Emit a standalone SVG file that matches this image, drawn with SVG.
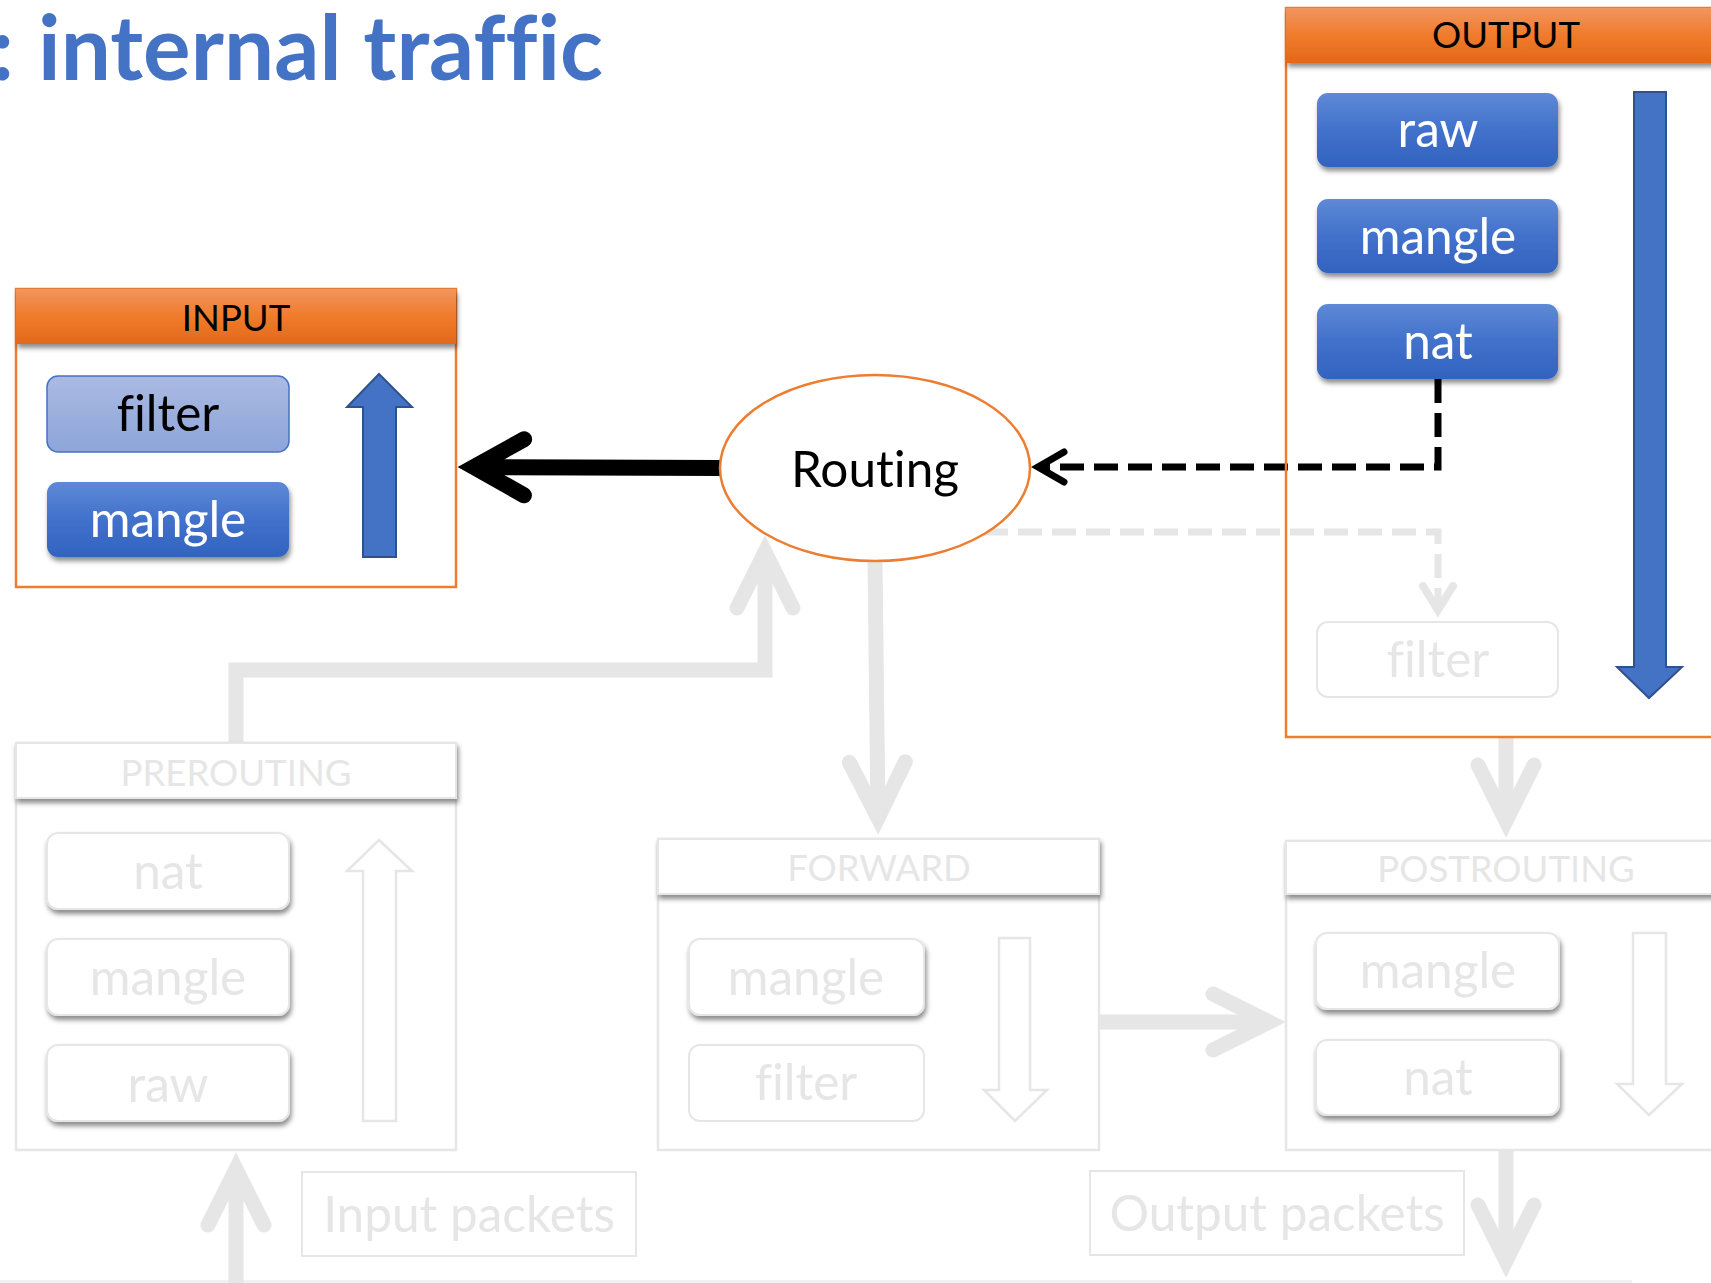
<svg xmlns="http://www.w3.org/2000/svg" width="1711" height="1283" viewBox="0 0 1711 1283">
  <defs>
    <linearGradient id="gOrange" x1="0" y1="0" x2="0" y2="1">
      <stop offset="0" stop-color="#F2955F"/>
      <stop offset="0.5" stop-color="#F07B2B"/>
      <stop offset="1" stop-color="#E2681A"/>
    </linearGradient>
    <linearGradient id="gBlue" x1="0" y1="0" x2="0" y2="1">
      <stop offset="0" stop-color="#5F89D6"/>
      <stop offset="0.5" stop-color="#4171CB"/>
      <stop offset="1" stop-color="#3263BF"/>
    </linearGradient>
    <linearGradient id="gLight" x1="0" y1="0" x2="0" y2="1">
      <stop offset="0" stop-color="#AABAE2"/>
      <stop offset="1" stop-color="#8DA5DA"/>
    </linearGradient>
    <filter id="shadow" x="-10%" y="-20%" width="130%" height="160%">
      <feDropShadow dx="1.5" dy="4" stdDeviation="2.5" flood-color="#000" flood-opacity="0.45"/>
    </filter>
    <marker id="mGray" markerUnits="userSpaceOnUse" orient="auto" overflow="visible" markerWidth="1" markerHeight="1">
      <path d="M -56 -28 L 0 0 L -56 28" fill="none" stroke="#E6E6E6" stroke-width="15" stroke-linecap="round" stroke-linejoin="miter"/>
    </marker>
    <marker id="mBlack" markerUnits="userSpaceOnUse" orient="auto" overflow="visible" markerWidth="1" markerHeight="1">
      <path d="M -50 -28 L 0 0 L -50 28" fill="none" stroke="#000" stroke-width="16" stroke-linecap="round" stroke-linejoin="miter"/>
    </marker>
    <marker id="mBlackDash" markerUnits="userSpaceOnUse" orient="auto" overflow="visible" markerWidth="1" markerHeight="1">
      <path d="M -26 -15 L 0 0 L -26 15" fill="none" stroke="#000" stroke-width="7" stroke-linecap="round" stroke-linejoin="miter"/>
    </marker>
    <marker id="mGrayDash" markerUnits="userSpaceOnUse" orient="auto" overflow="visible" markerWidth="1" markerHeight="1">
      <path d="M -24 -15 L 0 0 L -24 15" fill="none" stroke="#E6E6E6" stroke-width="8" stroke-linecap="round" stroke-linejoin="miter"/>
    </marker>
  </defs>
  <style>
    text { font-family: Lato, "Open Sans", "Liberation Sans", sans-serif; text-anchor: middle; font-variant-ligatures: none; }
    .title { font-weight: bold; font-size: 89px; fill: #4472C4; text-anchor: start; }
    .head { font-size: 36.5px; }
    .lbl { font-size: 49.5px; }
    .dark { fill: #000; }
    .white { fill: #FFF; }
    .faint { fill: #E6E6E6; }
    .frameOn { fill: none; stroke: #ED7D31; stroke-width: 2.5; }
    .frameOff { fill: none; stroke: #E6E6E6; stroke-width: 2.5; }
    .hdrOn { fill: url(#gOrange); filter: url(#shadow); }
    .hdrOff { fill: #FFF; stroke: #E6E6E6; stroke-width: 2; filter: url(#shadow); }
    .tblOn { fill: url(#gBlue); filter: url(#shadow); }
    .tblLight { fill: url(#gLight); stroke: #4472C4; stroke-width: 1.5; }
    .tblOff { fill: #FFF; stroke: #E6E6E6; stroke-width: 2; filter: url(#shadow); }
    .tblOffFlat { fill: #FFF; stroke: #E6E6E6; stroke-width: 2; }
    .arrOn { fill: #4472C4; stroke: #2F528F; stroke-width: 2; }
    .arrOff { fill: #FFF; stroke: #E6E6E6; stroke-width: 2.5; }
    .thick { fill: none; stroke: #E6E6E6; stroke-width: 15; stroke-linejoin: miter; marker-end: url(#mGray); }
    .blk { fill: none; stroke: #000; stroke-width: 16; marker-end: url(#mBlack); }
    .blkDash { fill: none; stroke: #000; stroke-width: 7; stroke-dasharray: 24 10; marker-end: url(#mBlackDash); }
    .grayDash { fill: none; stroke: #E6E6E6; stroke-width: 7; stroke-dasharray: 24 10; marker-end: url(#mGrayDash); }
  </style>

  <rect width="1711" height="1283" fill="#FFF"/>

  <!-- slide title, running off the left edge -->
  <g id="title">
    <text class="title" y="80"><tspan x="-9">:</tspan><tspan x="38" textLength="565">internal traffic</tspan></text>
  </g>

  <!-- thin footer rule -->
  <g id="footer-rule">
    <line x1="0" y1="1281.5" x2="1632" y2="1281.5" stroke="#F0F0F0" stroke-width="3"/>
  </g>

  <!-- OUTPUT body fill sits under the connectors that cross it -->
  <rect x="1286" y="8" width="440" height="729" fill="#FFF"/>

  <g id="connectors">
    <path class="thick" d="M 236 743 L 236 670 L 765 670 L 765 552"/>
    <path class="thick" d="M 875 561 L 878 818"/>
    <path class="thick" d="M 1506 737 L 1506 821"/>
    <path class="thick" d="M 1099 1022 L 1269 1022"/>
    <path class="thick" d="M 236 1290 L 236 1169"/>
    <path class="thick" d="M 1506 1150 L 1506 1261"/>
    <path class="blk" d="M 722 468 L 474 467"/>
    <path class="blkDash" d="M 1438 379 L 1438 467 L 1038 467"/>
    <path class="grayDash" d="M 984 532 L 1438 532 L 1438 610"/>
  </g>

  <g id="routing">
    <ellipse cx="875" cy="468" rx="155" ry="93" fill="#FFF" stroke="#ED7D31" stroke-width="2.5"/>
    <text class="lbl dark" x="875" y="487">Routing</text>
  </g>

  <g id="input-chain">
    <rect x="16" y="289" width="440" height="298" fill="#FFF"/>
    <rect class="frameOn" x="16" y="289" width="440" height="298"/>
    <rect class="hdrOn" x="16" y="289" width="440" height="55"/>
    <text class="head dark" x="236" y="331">INPUT</text>
    <rect class="tblLight" x="47" y="376" width="242" height="76" rx="11"/>
    <text class="lbl dark" x="168" y="431">filter</text>
    <rect class="tblOn" x="47" y="482" width="242" height="75" rx="11"/>
    <text class="lbl white" x="168" y="537">mangle</text>
    <polygon class="arrOn" points="363,557 396,557 396,407 412,407 379,374 347,407 363,407"/>
  </g>

  <g id="output-chain">
    <rect class="frameOn" x="1286" y="8" width="440" height="729"/>
    <rect class="hdrOn" x="1286" y="8" width="440" height="55"/>
    <text class="head dark" x="1506" y="48">OUTPUT</text>
    <rect class="tblOn" x="1317" y="93" width="241" height="74" rx="11"/>
    <text class="lbl white" x="1438" y="147">raw</text>
    <rect class="tblOn" x="1317" y="199" width="241" height="74" rx="11"/>
    <text class="lbl white" x="1438" y="254">mangle</text>
    <rect class="tblOn" x="1317" y="304" width="241" height="75" rx="11"/>
    <text class="lbl white" x="1438" y="359">nat</text>
    <rect class="tblOffFlat" x="1317" y="622" width="241" height="75" rx="11"/>
    <text class="lbl faint" x="1438" y="677">filter</text>
    <polygon class="arrOn" points="1634,92 1666,92 1666,667 1682,667 1649,698 1617,667 1634,667"/>
  </g>

  <g id="prerouting-chain">
    <rect x="16" y="743" width="440" height="407" fill="#FFF"/>
    <rect class="frameOff" x="16" y="743" width="440" height="407"/>
    <rect class="hdrOff" x="16" y="743" width="440" height="55"/>
    <text class="head faint" x="236" y="786">PREROUTING</text>
    <rect class="tblOff" x="47" y="833" width="242" height="76" rx="11"/>
    <text class="lbl faint" x="168" y="889">nat</text>
    <rect class="tblOff" x="47" y="939" width="242" height="76" rx="11"/>
    <text class="lbl faint" x="168" y="995">mangle</text>
    <rect class="tblOff" x="47" y="1045" width="242" height="76" rx="11"/>
    <text class="lbl faint" x="168" y="1102">raw</text>
    <polygon class="arrOff" points="363,1121 396,1121 396,871 412,871 379,840 347,871 363,871"/>
  </g>

  <g id="forward-chain">
    <rect x="658" y="839" width="441" height="311" fill="#FFF"/>
    <rect class="frameOff" x="658" y="839" width="441" height="311"/>
    <rect class="hdrOff" x="658" y="839" width="441" height="55"/>
    <text class="head faint" x="879" y="881">FORWARD</text>
    <rect class="tblOff" x="689" y="939" width="235" height="76" rx="11"/>
    <text class="lbl faint" x="806" y="995">mangle</text>
    <rect class="tblOffFlat" x="689" y="1045" width="235" height="76" rx="11"/>
    <text class="lbl faint" x="806" y="1100">filter</text>
    <polygon class="arrOff" points="999,938 1030,938 1030,1090 1047,1090 1015,1121 984,1090 999,1090"/>
  </g>

  <g id="postrouting-chain">
    <rect x="1286" y="841" width="440" height="309" fill="#FFF"/>
    <rect class="frameOff" x="1286" y="841" width="440" height="309"/>
    <rect class="hdrOff" x="1286" y="841" width="440" height="53"/>
    <text class="head faint" x="1506" y="882">POSTROUTING</text>
    <rect class="tblOff" x="1316" y="933" width="243" height="76" rx="11"/>
    <text class="lbl faint" x="1438" y="988">mangle</text>
    <rect class="tblOff" x="1316" y="1040" width="243" height="75" rx="11"/>
    <text class="lbl faint" x="1438" y="1095">nat</text>
    <polygon class="arrOff" points="1633,933 1666,933 1666,1084 1682,1084 1649,1115 1617,1084 1633,1084"/>
  </g>

  <g id="input-packets">
    <rect class="tblOffFlat" x="302" y="1172" width="334" height="84"/>
    <text class="lbl faint" x="469" y="1232">Input packets</text>
  </g>

  <g id="output-packets">
    <rect class="tblOffFlat" x="1090" y="1171" width="374" height="84"/>
    <text class="lbl faint" x="1277" y="1231">Output packets</text>
  </g>
</svg>
